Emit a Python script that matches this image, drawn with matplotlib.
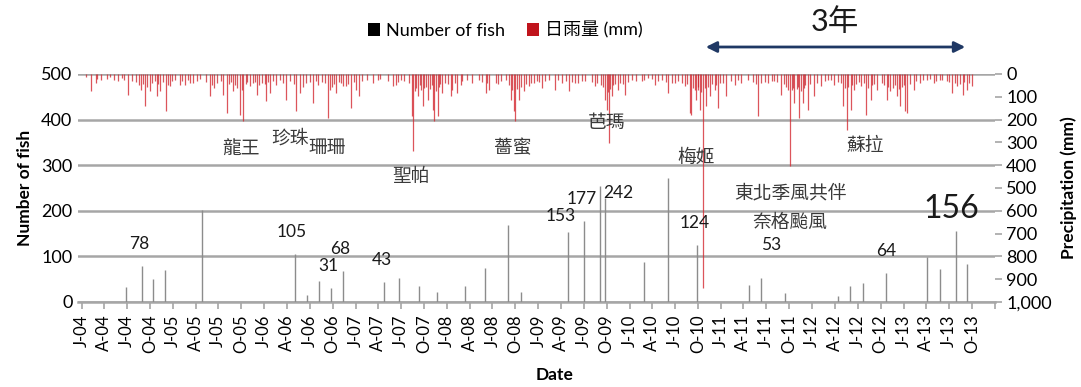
import matplotlib
matplotlib.use('Agg')
import matplotlib.pyplot as plt
import matplotlib.dates as mdates
from matplotlib.patches import Patch, FancyArrowPatch
from matplotlib.ticker import FuncFormatter, FixedLocator
import pandas as pd

# ---------------- data ----------------
fish_dates = ['2004-06-28', '2004-08-29', '2004-10-12', '2004-11-28', '2005-04-28',
              '2006-05-03', '2006-06-21', '2006-08-07', '2006-09-25', '2006-11-12',
              '2007-04-26', '2007-06-22', '2007-09-11', '2007-11-22', '2008-03-12',
              '2008-06-03', '2008-09-02', '2008-10-24', '2009-04-29', '2009-07-01',
              '2009-09-05', '2009-09-25', '2010-03-01', '2010-06-02', '2010-09-28',
              '2011-04-23', '2011-06-09', '2011-09-16', '2012-04-14', '2012-05-30',
              '2012-07-24', '2012-10-24', '2013-04-03', '2013-05-28', '2013-07-30',
              '2013-09-12']
fish_counts = [32, 78, 50, 70, 201,
               105, 16, 47, 31, 68,
               43, 53, 34, 23, 34,
               74, 168, 23, 153, 177,
               255, 228, 88, 272, 124,
               38, 53, 20, 14, 34,
               42, 64, 99, 72, 156,
               83]

# larger daily rainfall spikes (mm)
rain_dates = ['2004-02-06', '2004-02-26', '2004-03-17', '2004-04-12', '2004-05-09', '2004-06-11',
              '2004-07-03', '2004-08-16', '2004-08-25', '2004-09-12', '2004-10-02', '2004-10-28',
              '2004-11-11', '2004-12-05', '2004-12-21', '2005-01-29', '2005-02-18', '2005-03-10',
              '2005-03-23', '2005-04-06', '2005-05-29', '2005-06-04', '2005-07-21', '2005-08-03',
              '2005-08-30', '2005-09-25', '2005-10-09', '2005-11-04', '2005-12-01', '2006-01-09',
              '2006-01-23', '2006-02-18', '2006-03-30', '2006-05-09', '2006-05-22', '2006-07-14',
              '2006-08-03', '2006-09-12', '2006-09-19', '2006-10-15', '2006-11-11', '2006-11-24',
              '2006-12-14', '2007-01-03', '2007-01-16', '2007-03-11', '2007-03-30', '2007-05-29',
              '2007-06-11', '2007-07-01', '2007-08-14', '2007-08-18', '2007-09-06', '2007-09-26',
              '2007-10-16', '2007-11-05', '2007-11-11', '2007-11-25', '2007-12-14', '2008-01-16',
              '2008-01-23', '2008-02-12', '2008-02-25', '2008-04-12', '2008-05-09', '2008-06-04',
              '2008-06-17', '2008-07-14', '2008-08-23', '2008-09-12', '2008-09-25', '2008-10-01',
              '2008-10-15', '2008-11-04', '2008-11-24', '2008-12-14', '2009-01-16', '2009-02-12',
              '2009-03-10', '2009-04-05', '2009-05-02', '2009-05-29', '2009-07-07', '2009-08-16',
              '2009-09-25', '2009-10-02', '2009-10-09', '2009-10-22', '2009-11-17', '2009-12-14',
              '2010-01-09', '2010-02-18', '2010-03-17', '2010-04-12', '2010-05-09', '2010-06-05',
              '2010-07-01', '2010-07-28', '2010-08-10', '2010-08-30', '2010-09-05', '2010-09-19',
              '2010-09-25', '2010-10-09', '2010-10-21', '2010-11-04', '2010-11-17', '2010-12-07',
              '2010-12-21', '2011-01-23', '2011-02-25', '2011-03-24', '2011-04-19', '2011-05-29',
              '2011-07-08', '2011-08-03', '2011-08-30', '2011-09-26', '2011-10-05', '2011-10-22',
              '2011-11-11', '2011-11-24', '2011-12-14', '2012-01-10', '2012-02-05', '2012-03-03',
              '2012-03-29', '2012-05-02', '2012-05-18', '2012-06-04', '2012-06-17', '2012-07-14',
              '2012-08-02', '2012-08-22', '2012-09-17', '2012-10-27', '2012-11-09', '2012-12-06',
              '2012-12-19', '2013-01-08', '2013-01-15', '2013-02-10', '2013-03-09', '2013-04-04',
              '2013-05-01', '2013-05-27', '2013-06-23', '2013-07-13', '2013-08-02', '2013-08-28',
              '2013-09-11', '2013-10-01']
rain_mm = [76, 39, 25, 20, 25, 18,
           91, 47, 69, 142, 76, 98,
           76, 164, 54, 47, 47, 39,
           39, 32, 98, 47, 91, 171,
           76, 178, 208, 54, 91, 120,
           83, 47, 113, 164, 83, 127,
           47, 193, 69, 83, 54, 54,
           149, 69, 98, 39, 25, 54,
           47, 25, 186, 336, 98, 142,
           113, 157, 208, 186, 83, 98,
           69, 83, 47, 39, 25, 83,
           69, 39, 25, 113, 164, 208,
           113, 76, 54, 39, 61, 25,
           69, 39, 76, 39, 32, 54,
           113, 157, 303, 98, 69, 91,
           25, 32, 18, 47, 25, 83,
           39, 39, 54, 171, 178, 69,
           113, 157, 939, 142, 98, 69,
           149, 98, 47, 39, 25, 186,
           39, 32, 91, 69, 405, 127,
           193, 127, 157, 98, 54, 25,
           47, 142, 244, 157, 69, 54,
           178, 113, 69, 113, 76, 98,
           142, 164, 171, 69, 39, 25,
           39, 25, 32, 83, 54, 91,
           69, 54]

# smaller daily rainfall (the dense fringe under the top axis), estimated
rain_small_dates = [
    '2004-01-20', '2004-03-01', '2004-04-25', '2004-05-25', '2004-06-20', '2004-07-20',
    '2004-08-05', '2004-09-02', '2004-09-20', '2004-10-10', '2004-10-20', '2004-11-02',
    '2004-11-20', '2004-12-12', '2004-12-28',
    '2005-01-10', '2005-02-05', '2005-03-01', '2005-04-20', '2005-05-12', '2005-06-15',
    '2005-06-25', '2005-07-10', '2005-08-12', '2005-08-20', '2005-09-05', '2005-09-15',
    '2005-10-02', '2005-10-18', '2005-10-25', '2005-11-15', '2005-11-25', '2005-12-12',
    '2005-12-22',
    '2006-01-02', '2006-01-16', '2006-02-05', '2006-03-05', '2006-03-15', '2006-04-15',
    '2006-05-01', '2006-06-05', '2006-06-15', '2006-07-01', '2006-07-25', '2006-08-20',
    '2006-09-02', '2006-09-28', '2006-10-05', '2006-10-25', '2006-11-02', '2006-12-02',
    '2006-12-24',
    '2007-01-25', '2007-02-15', '2007-04-10', '2007-05-10', '2007-06-20', '2007-07-15',
    '2007-08-01', '2007-08-25', '2007-09-01', '2007-09-15', '2007-09-20', '2007-10-01',
    '2007-10-08', '2007-10-25', '2007-11-01', '2007-11-18', '2007-12-01', '2007-12-05',
    '2007-12-25',
    '2008-01-05', '2008-02-01', '2008-03-01', '2008-03-20', '2008-05-20', '2008-06-10',
    '2008-07-25', '2008-08-05', '2008-09-05', '2008-09-18', '2008-10-08', '2008-10-22',
    '2008-11-12', '2008-12-01', '2008-12-25',
    '2009-01-05', '2009-01-28', '2009-03-20', '2009-04-20', '2009-05-15', '2009-06-10',
    '2009-06-25', '2009-08-05', '2009-08-25', '2009-09-10', '2009-09-18', '2009-10-05',
    '2009-10-15', '2009-10-28', '2009-11-05', '2009-11-25', '2009-12-05', '2009-12-25',
    '2010-01-25', '2010-03-01', '2010-04-01', '2010-04-25', '2010-05-25', '2010-06-20',
    '2010-07-15', '2010-08-20', '2010-09-10', '2010-09-30', '2010-10-03', '2010-10-15',
    '2010-10-28', '2010-11-10', '2010-11-25', '2010-12-14', '2010-12-28',
    '2011-01-10', '2011-02-10', '2011-03-10', '2011-05-10', '2011-05-20', '2011-06-10',
    '2011-06-25', '2011-07-25', '2011-08-15', '2011-09-10', '2011-09-18', '2011-10-12',
    '2011-10-15', '2011-11-01', '2011-11-05', '2011-11-18', '2011-12-01', '2011-12-05',
    '2011-12-25',
    '2012-01-20', '2012-02-20', '2012-03-15', '2012-04-15', '2012-04-25', '2012-05-10',
    '2012-05-25', '2012-06-10', '2012-06-25', '2012-07-05', '2012-07-25', '2012-08-10',
    '2012-08-28', '2012-09-05', '2012-10-05', '2012-10-15', '2012-11-01', '2012-11-20',
    '2012-11-28', '2012-12-12', '2012-12-26',
    '2013-01-02', '2013-01-25', '2013-02-20', '2013-03-20', '2013-04-15', '2013-05-10',
    '2013-06-05', '2013-07-01', '2013-07-25', '2013-08-15', '2013-09-01', '2013-09-20']
rain_small_mm = [
    15, 20, 15, 30, 25, 30, 35, 45, 55, 40, 30, 45, 35, 50, 30,
    25, 30, 25, 20, 35, 60, 40, 30, 45, 35, 50, 60, 70, 45, 35, 40, 35, 50, 40,
    45, 35, 30, 25, 40, 30, 45, 55, 40, 35, 30, 35, 40, 55, 45, 35, 40, 45, 35,
    30, 25, 20, 30, 35, 30, 40, 75, 60, 50, 70, 60, 55, 65, 50, 75, 55, 45, 40,
    45, 40, 30, 25, 35, 40, 45, 30, 50, 70, 65, 55, 45, 40, 30,
    35, 30, 25, 30, 35, 40, 30, 35, 40, 50, 55, 80, 65, 50, 45, 40, 45, 35,
    30, 25, 20, 30, 35, 40, 30, 45, 60, 70, 55, 80, 60, 55, 45, 50, 40,
    40, 30, 25, 35, 45, 40, 35, 30, 35, 45, 55, 70, 60, 65, 55, 75, 60, 50, 45,
    40, 30, 25, 35, 40, 60, 55, 50, 45, 35, 40, 60, 50, 45, 40, 50, 55, 60, 50, 65, 55,
    50, 45, 30, 25, 20, 30, 25, 35, 40, 45, 35, 40]

tick_dates = list(pd.date_range('2004-01-01', '2013-10-01', freq='QS'))
month_letter = {1: 'J', 4: 'A', 7: 'J', 10: 'O'}
tick_labels = [f"{month_letter[d.month]}-{d.year % 100:02d}" for d in tick_dates]

# annotations: (text, x_px, y_px, fontsize)
num_labels = [('78', 139, 244, 12.5), ('105', 292, 232, 12.5), ('68', 340, 249, 12.5),
              ('31', 328, 266, 12.5), ('43', 382, 260, 12.5), ('153', 561, 216, 12.5),
              ('177', 582, 199, 12.5), ('242', 618, 193, 12.5), ('124', 695, 223, 12.5),
              ('53', 771, 245, 12.5), ('64', 886, 251, 12.5), ('156', 951, 209, 23)]
cjk_labels = [('龍王', 241, 149), ('珍珠', 290, 138), ('珊珊', 327, 147), ('聖帕', 411, 177),
              ('薔蜜', 513, 148), ('芭瑪', 607, 122), ('梅姬', 696, 157), ('蘇拉', 865, 145),
              ('東北季風共伴', 790, 193), ('奈格颱風', 790, 222)]

# ---------------- figure ----------------
W, H = 1081, 387
plt.rcParams['font.family'] = ['Lato', 'Noto Sans CJK TC', 'DejaVu Sans']
fig = plt.figure(figsize=(W / 100, H / 100), dpi=100)
ax = fig.add_axes([78 / W, 1 - 302 / H, (995 - 78) / W, (302 - 74) / H])
ax2 = ax.twinx()

grid_c = '#a6a6a6'
fd = pd.to_datetime(fish_dates)

ax.vlines(fd, 0, fish_counts, color='#8c8c8c', lw=1.0, zorder=3)
ax2.vlines(pd.to_datetime(rain_small_dates), 0, rain_small_mm, color='#c8202a',
           lw=0.9, alpha=0.75, zorder=3)
ax2.vlines(pd.to_datetime(rain_dates), 0, rain_mm, color='#d42a32', lw=0.9, alpha=0.8, zorder=3)

ax.set_ylim(0, 500)
ax2.set_ylim(1000, 0)
ax.set_xlim(pd.Timestamp('2003-12-18'), pd.Timestamp('2014-01-01'))

ax.set_yticks(range(0, 501, 100))
ax.yaxis.grid(True, color=grid_c, lw=1.8)
ax.set_axisbelow(True)
ax2.set_yticks(range(0, 1001, 100))
ax2.yaxis.set_major_formatter(FuncFormatter(lambda v, p: f"{int(v):,}"))

ax.xaxis.set_major_locator(FixedLocator(mdates.date2num(tick_dates + [pd.Timestamp('2014-01-01')])))
ax.set_xticklabels(tick_labels + [''], rotation=90, fontsize=12)

for a in (ax, ax2):
    for s in a.spines.values():
        s.set_visible(False)
ax.spines['bottom'].set_visible(True)
ax.spines['bottom'].set_color(grid_c)
ax.spines['bottom'].set_linewidth(1.8)

ax.tick_params(axis='y', length=0, labelsize=13, pad=4)
ax.tick_params(axis='x', length=5, color=grid_c, width=1.2, pad=4)
ax2.tick_params(axis='y', length=5, color=grid_c, width=1.2, labelsize=13, pad=3)

ax.set_ylabel('Number of fish', fontsize=12.5, fontweight='bold', labelpad=6)
ax2.set_ylabel('Precipitation (mm)', fontsize=12.5, fontweight='bold', labelpad=6)
ax.set_xlabel('Date', fontsize=12.5, fontweight='bold')
ax.xaxis.set_label_coords(0.52, -0.285)

for t, x, y, fs in num_labels:
    fig.text(x / W, 1 - y / H, t, ha='center', va='center', fontsize=fs, color='#1a1a1a')
for t, x, y in cjk_labels:
    fig.text(x / W, 1 - y / H, t, ha='center', va='center', fontsize=13.5,
             color='#3a3a3a', family=['Noto Sans CJK TC', 'DejaVu Sans'])

handles = [Patch(facecolor='black', label='Number of fish'),
           Patch(facecolor='#c0141c', label='日雨量 (mm)')]
fig.legend(handles=handles, loc='center', bbox_to_anchor=(505 / W, 1 - 30 / H), ncol=2,
           frameon=False, fontsize=13, handlelength=0.7, handleheight=0.7,
           handletextpad=0.3, columnspacing=1.2)

fig.text(835 / W, 1 - 22 / H, '3年', ha='center', va='center', fontsize=22, color='#1a1a1a')
fig.add_artist(FancyArrowPatch((703 / W, 1 - 47 / H), (968 / W, 1 - 47 / H),
                               transform=fig.transFigure, arrowstyle='<|-|>',
                               mutation_scale=16, color='#1f3864', lw=2))

fig.savefig('out.png', dpi=100)
